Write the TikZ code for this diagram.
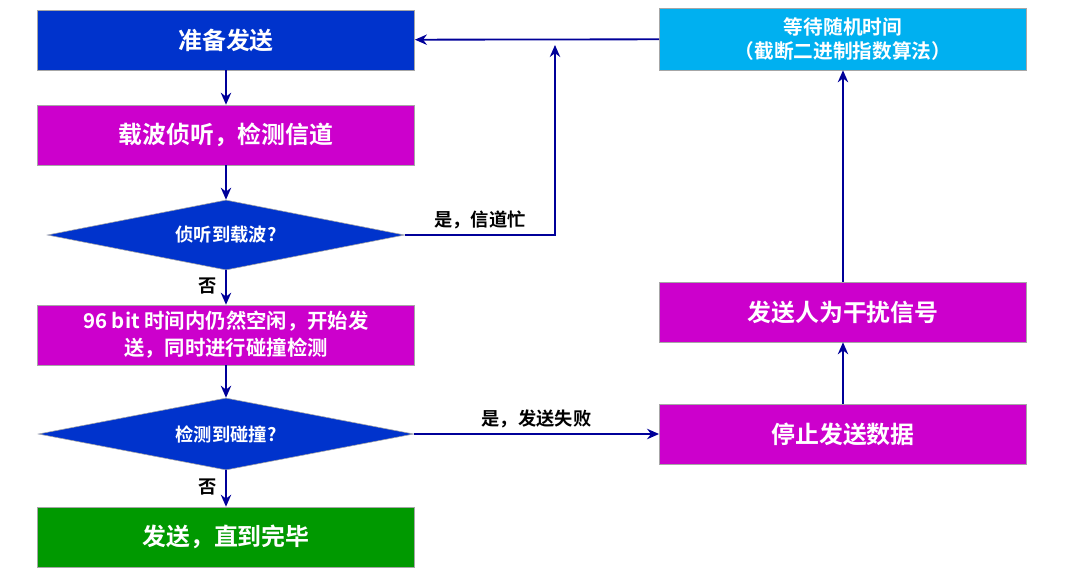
\documentclass[tikz,border=0pt]{standalone}
\usepackage{fontspec}
\setmainfont{Noto Sans CJK SC}[BoldFont={Noto Sans CJK SC Bold}]
\usetikzlibrary{shapes.geometric, positioning, arrows.meta}
\definecolor{darkblue}{RGB}{0,51,204}
\definecolor{mag}{RGB}{204,0,204}
\definecolor{grn}{RGB}{0,153,0}
\definecolor{cyn}{RGB}{0,176,240}
\definecolor{arr}{RGB}{0,0,153}
\tikzset{
  box/.style={draw=gray!70, fill=#1, text=white, font=\bfseries\fontsize{17}{20}\selectfont,
    minimum width=9.43cm, minimum height=1.5cm, inner sep=2pt, align=center},
  dec/.style={diamond, aspect=5.2, draw=gray!70, fill=darkblue, text=white, inner sep=0pt,
    font=\bfseries\fontsize{13}{16}\selectfont},
  link/.style={draw=arr, line width=1.3pt, -{Stealth[length=3mm,width=2.6mm]}},
  lbl/.style={font=\bfseries\fontsize{13}{16}\selectfont}
}
\begin{document}
\begin{tikzpicture}[x=0.025cm, y=-0.025cm]
\useasboundingbox (0,0) rectangle (1068,580);
\node[box=darkblue] (ready) at (226,40) {准备发送};
\node[box=mag] (sense) at (226,135) {载波侦听，检测信道};
\node[dec, minimum width=8.93cm, minimum height=1.75cm] (busy) at (226,235) {侦听到载波?};
\node[box=mag, font=\bfseries\fontsize{14.5}{19}\selectfont] (send) at (226,335) {96 bit 时间内仍然空闲，开始发\\送，同时进行碰撞检测};
\node[dec, minimum width=9.38cm, minimum height=1.8cm] (coll) at (226,434) {检测到碰撞?};
\node[box=grn] (done) at (226,537) {发送，直到完毕};
\node[box=cyn, minimum width=9.18cm, minimum height=1.55cm, font=\bfseries\fontsize{14}{17}\selectfont] (wait) at (843,39) {等待随机时间\\（截断二进制指数算法）};
\node[box=mag, minimum width=9.18cm] (jam) at (843,312) {发送人为干扰信号};
\node[box=mag, minimum width=9.18cm] (stop) at (843,434) {停止发送数据};
\coordinate (up) at (555,45);
\draw[link] (ready) -- (sense);
\draw[link] (sense) -- (busy);
\draw[link] (busy) -- node[lbl, left=1mm, pos=0.45] {否} (send);
\draw[link] (send) -- (coll);
\draw[link] (coll) -- node[lbl, left=1mm, pos=0.45] {否} (done);
\draw[link] (busy.east) -- node[lbl, above, pos=0.5] {是，信道忙} (up |- busy.east) -- (up);
\draw[link] (wait) -- (ready);
\draw[link] (coll.east) -- node[lbl, above] {是，发送失败} (stop);
\draw[link] (stop) -- (jam);
\draw[link] (jam) -- (wait);
\end{tikzpicture}
\end{document}
